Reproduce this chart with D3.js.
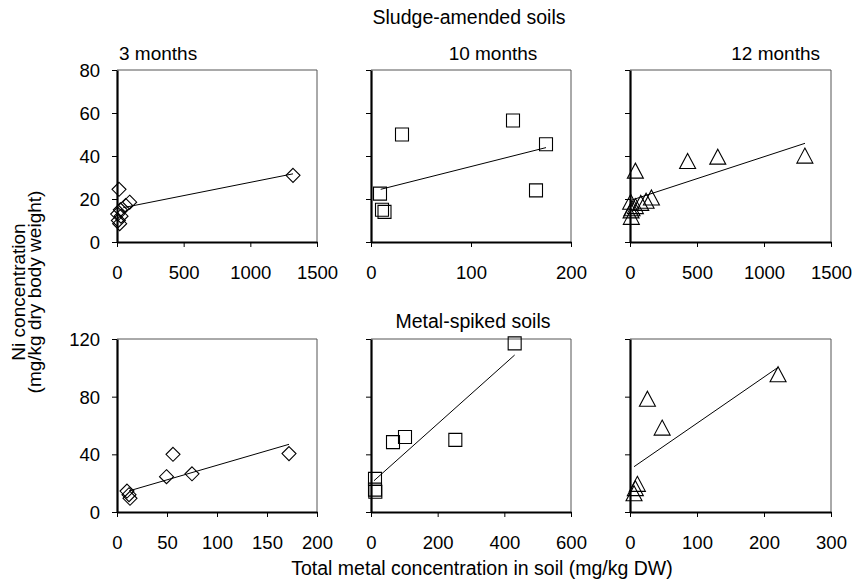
<!DOCTYPE html>
<html><head><meta charset="utf-8">
<script src="https://cdn.jsdelivr.net/npm/d3@7"></script>
<style>body{margin:0;background:#fff}svg{display:block}text{font-family:"Liberation Sans",Arial,sans-serif;fill:#000}</style>
</head><body><svg id="c" width="856" height="581"></svg>
<script>
// ---- data ----
const panelTitles = ["3 months", "10 months", "12 months"];
const groupTitles = ["Sludge-amended soils", "Metal-spiked soils"];
const xTitle = "Total metal concentration in soil (mg/kg DW)";
const yTitle = ["Ni concentration", "(mg/kg dry body weight)"];

const sludge3 = [[15,24.5],[95,18.5],[65,17],[25,15],[5,13],[30,12],[10,10],[20,8.5],[1320,31]];
const sludge10 = [[31,50],[9,22.5],[11,15],[13.5,14],[142,56.5],[175,45.5],[165,24]];
const sludge12 = [[40,32.5],[430,37],[655,39],[1305,39.5],[160,20],[120,18.5],[80,17.5],[40,16],[5,18],[15,15],[8,14],[10,11]];
const spiked3 = [[56,40],[49.5,24.5],[75,26.5],[10,14.5],[12,12],[13,9.5],[172,40.5]];
const spiked10 = [[102,52],[66,48.5],[253,50],[12,23],[12,15.5],[13,14],[431,117]];
const spiked12 = [[26,77.5],[48,57.5],[221,94.5],[11,18.5],[8,15.5],[6,12]];

// trend lines: [xStart, xEnd, intercept, slope]
const fitSludge3 = [47, 1320, 15.4, 0.01235];
const fitSludge10 = [9.7, 175, 23.36, 0.1174];
const fitSludge12 = [12, 1306, 19.26, 0.0204];
const fitSpiked3 = [12, 172, 12.2, 0.202];
const fitSpiked10 = [9, 431, 19.84, 0.2066];
const fitSpiked12 = [6, 221, 29.5, 0.3205];

const xTicksS3 = [0,500,1000,1500];
const xTicksS10 = [0,100,200];
const xTicksS12 = [0,500,1000,1500];
const xTicksM3 = [0,50,100,150,200];
const xTicksM10 = [0,200,400,600];
const xTicksM12 = [0,100,200,300];
const yTicksTop = [0,20,40,60,80];
const yTicksBottom = [0,40,80,120];

// ---- layout ----
const svg = d3.select("#c");
const colX = [[117,317],[371,571],[630,831]];
const rowY = [[70,242],[339,512]];
const markers = ["diamond","square","triangle"];

const panels = [
  {row:0,col:0,data:sludge3,fit:fitSludge3,xt:xTicksS3,yt:yTicksTop},
  {row:0,col:1,data:sludge10,fit:fitSludge10,xt:xTicksS10,yt:yTicksTop},
  {row:0,col:2,data:sludge12,fit:fitSludge12,xt:xTicksS12,yt:yTicksTop},
  {row:1,col:0,data:spiked3,fit:fitSpiked3,xt:xTicksM3,yt:yTicksBottom},
  {row:1,col:1,data:spiked10,fit:fitSpiked10,xt:xTicksM10,yt:yTicksBottom},
  {row:1,col:2,data:spiked12,fit:fitSpiked12,xt:xTicksM12,yt:yTicksBottom}
];

function markerPath(type){
  if(type==="diamond") return "M0,-7L7,0L0,7L-7,0Z";
  if(type==="square") return "M-6.5,-6.5H6.5V6.5H-6.5Z";
  return "M0,-9L8,6H-8Z";
}

panels.forEach(p=>{
  const [x0,x1]=colX[p.col], [y0,y1]=rowY[p.row];
  const x=d3.scaleLinear().domain([p.xt[0],p.xt[p.xt.length-1]]).range([x0,x1]);
  const y=d3.scaleLinear().domain([p.yt[0],p.yt[p.yt.length-1]]).range([y1,y0]);
  const g=svg.append("g");
  g.append("path").attr("d",`M${x0},${y0}H${x1}V${y1}`).attr("fill","none").attr("stroke","#555").attr("stroke-width",1);
  const ax=g.append("g").attr("transform",`translate(0,${y1})`)
    .call(d3.axisBottom(x).tickValues(p.xt).tickSize(5).tickSizeOuter(0).tickFormat(d3.format("d")).tickPadding(19));
  const ay=g.append("g").attr("transform",`translate(${x0},0)`)
    .call(d3.axisLeft(y).tickValues(p.yt).tickSize(5).tickSizeOuter(0).tickFormat(d3.format("d")).tickPadding(12));
  [ax,ay].forEach(a=>{
    a.select(".domain").attr("stroke","#000").attr("stroke-width",2.2);
    a.selectAll(".tick line").attr("stroke","#000").attr("stroke-width",1);
    a.selectAll("text").style("font-size","18.5px").attr("fill","#000");
  });
  ay.selectAll(".tick text").attr("dy","0.35em");
  if(p.col!==0) ay.selectAll(".tick text").remove();
  const f=p.fit;
  g.append("line").attr("x1",x(f[0])).attr("y1",y(f[2]+f[3]*f[0]))
    .attr("x2",x(f[1])).attr("y2",y(f[2]+f[3]*f[1])).attr("stroke","#000").attr("stroke-width",1);
  g.selectAll("path.m").data(p.data).enter().append("path").attr("class","m")
    .attr("d",markerPath(markers[p.col]))
    .attr("transform",d=>`translate(${x(d[0])},${y(d[1])})`)
    .attr("fill","none").attr("stroke","#000").attr("stroke-width",1.1);
});

svg.append("text").attr("x",469).attr("y",24).attr("text-anchor","middle").style("font-size","19.5px").text(groupTitles[0]);
svg.append("text").attr("x",473).attr("y",328).attr("text-anchor","middle").style("font-size","19.5px").text(groupTitles[1]);
svg.append("text").attr("x",119).attr("y",60).style("font-size","19px").text(panelTitles[0]);
svg.append("text").attr("x",493).attr("y",60).attr("text-anchor","middle").style("font-size","19px").text(panelTitles[1]);
svg.append("text").attr("x",820).attr("y",60).attr("text-anchor","end").style("font-size","19px").text(panelTitles[2]);
svg.append("text").attr("x",482).attr("y",575).attr("text-anchor","middle").style("font-size","19.5px").text(xTitle);
svg.append("text").attr("transform","translate(25,292) rotate(-90)").attr("text-anchor","middle").style("font-size","19px").text(yTitle[0]);
svg.append("text").attr("transform","translate(41,292) rotate(-90)").attr("text-anchor","middle").style("font-size","19px").text(yTitle[1]);
</script></body></html>
